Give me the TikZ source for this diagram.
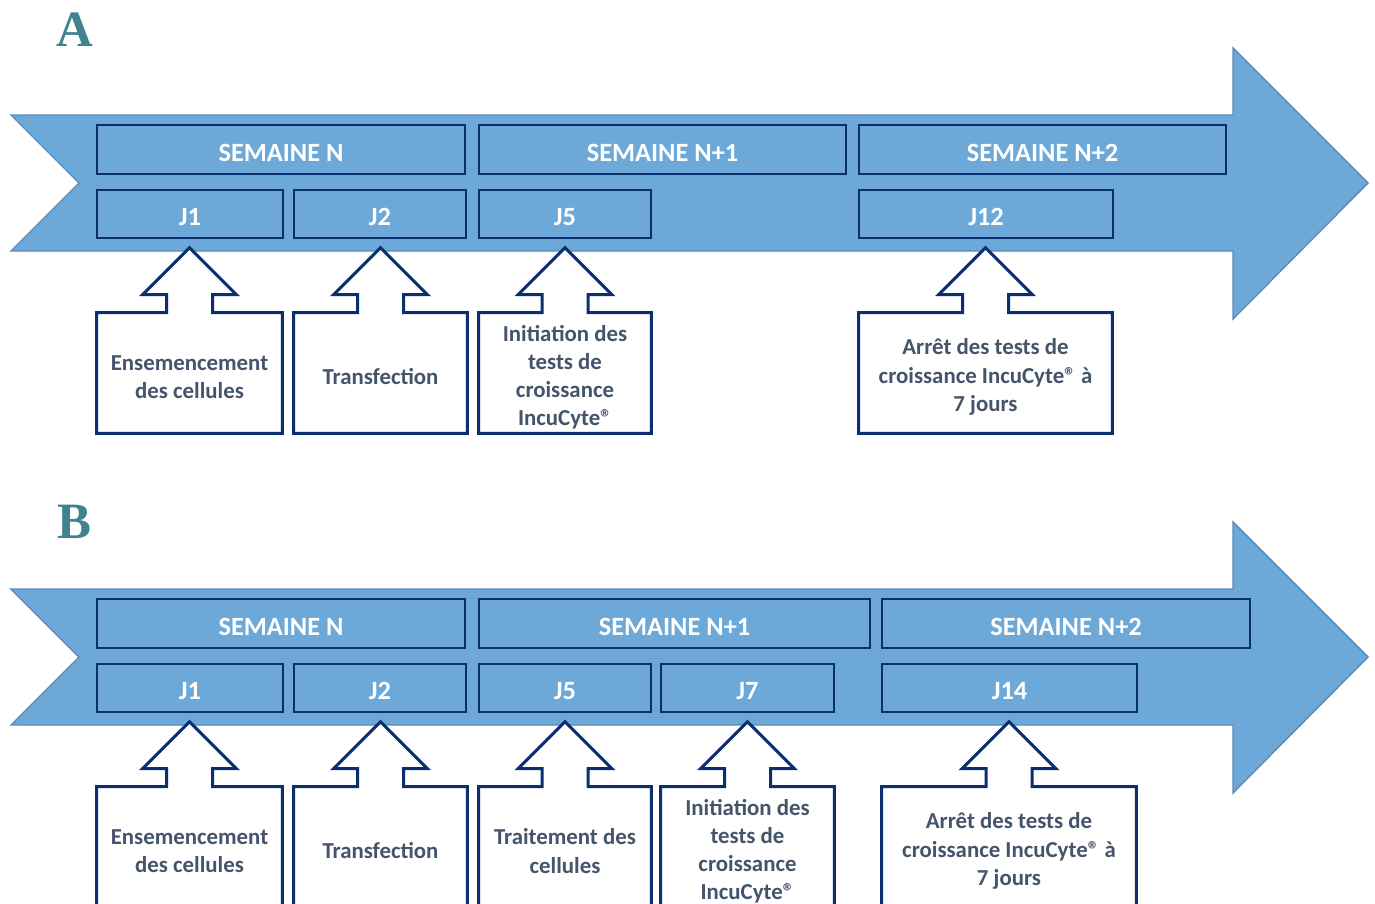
\documentclass[tikz,border=0pt]{standalone}
\usepackage{fontspec}
\setmainfont{Carlito}
\newfontfamily\letterfont{Liberation Serif}
\usepackage{xcolor}
\usetikzlibrary{positioning}

\definecolor{arrowfill}{HTML}{6CA9D9}
\definecolor{arrowline}{HTML}{5A8BBA}
\definecolor{navy}{HTML}{0B2E6E}
\definecolor{slate}{HTML}{44546A}
\definecolor{teal}{HTML}{41828F}

\tikzset{
  bigarrow/.style={fill=arrowfill, draw=arrowline, line width=0.8pt},
  weekbox/.style={draw=navy, line width=1.1pt, text=white, inner sep=0pt,
    text height=13.5pt, text depth=0pt,
    minimum height=0.98cm, font=\fontsize{15}{18}\selectfont\bfseries},
  daybox/.style={weekbox, minimum height=0.96cm},
  callbox/.style={text=slate, align=center, inner sep=0pt, minimum height=2.4cm,
    font=\fontsize{13}{16}\selectfont\bfseries},
  calltext/.style={callbox, yshift=-0.08cm},
  calloutline/.style={draw=navy, fill=white, line width=1.7pt, line join=miter},
  panel/.style={text=teal, font=\fontsize{29}{30}\letterfont\bfseries}
}

% outline of a callout box with its up arrow
\newcommand{\callarrow}[1]{%
  \draw[calloutline] (#1.north west) -- ([xshift=-0.46cm]#1.north) -- ++(0,-18)
    -- ++(-24,0) -- ++(47,-47) -- ++(47,47) -- ++(-24,0) -- ++(0,18)
    -- (#1.north east) -- (#1.south east) -- (#1.south west) -- cycle;}

\begin{document}
\begin{tikzpicture}[x=0.02cm, y=-0.02cm]
  \useasboundingbox (0,0) rectangle (1375,903);
  \clip (0,0) rectangle (1375,903);

  % ---- A ----
  \node[panel] (lA) at (75,30) {A};
  \draw[bigarrow] (11,115) -- (1233,115) -- (1233,48) -- (1368,183) -- (1233,319)
    -- (1233,251) -- (11,251) -- (79,183) -- cycle;

  \node[weekbox, minimum width=7.36cm] (wA1) at (281,149.5) {SEMAINE N};
  \node[weekbox, minimum width=7.34cm] (wA2) at (662.5,149.5) {SEMAINE N+1};
  \node[weekbox, minimum width=7.34cm] (wA3) at (1042.5,149.5) {SEMAINE N+2};

  \node[daybox, minimum width=3.72cm] (dA1) at (190,214) {J1};
  \node[daybox, minimum width=3.44cm] (dA2) at (380,214) {J2};
  \node[daybox, minimum width=3.44cm] (dA5) at (565,214) {J5};
  \node[daybox, minimum width=5.08cm] (dA12) at (986,214) {J12};

  \node[callbox, minimum width=3.70cm] (cA1) at (189.5,373) {};
  \node[callbox, minimum width=3.46cm] (cA2) at (380.5,373) {};
  \node[callbox, minimum width=3.44cm] (cA3) at (565,373) {};
  \node[callbox, minimum width=5.06cm] (cA4) at (985.5,373) {};
  \callarrow{cA1}
  \callarrow{cA2}
  \callarrow{cA3}
  \callarrow{cA4}
  \node[calltext] at (cA1) {Ensemencement\\des cellules};
  \node[calltext] at (cA2) {Transfection};
  \node[calltext] at (cA3) {Initiation des\\tests de\\croissance\\IncuCyte®};
  \node[calltext] at (cA4) {Arrêt des tests de\\croissance IncuCyte® à\\7 jours};

  % ---- B ----
  \node[panel] (lB) at (74,522) {B};
  \draw[bigarrow] (11,589) -- (1233,589) -- (1233,522) -- (1368,657) -- (1233,793)
    -- (1233,725) -- (11,725) -- (79,657) -- cycle;

  \node[weekbox, minimum width=7.36cm] (wB1) at (281,623.5) {SEMAINE N};
  \node[weekbox, minimum width=7.82cm] (wB2) at (674.5,623.5) {SEMAINE N+1};
  \node[weekbox, minimum width=7.36cm] (wB3) at (1066,623.5) {SEMAINE N+2};

  \node[daybox, minimum width=3.72cm] (dB1) at (190,688) {J1};
  \node[daybox, minimum width=3.44cm] (dB2) at (380,688) {J2};
  \node[daybox, minimum width=3.44cm] (dB5) at (565,688) {J5};
  \node[daybox, minimum width=3.46cm] (dB7) at (747.5,688) {J7};
  \node[daybox, minimum width=5.10cm] (dB14) at (1009.5,688) {J14};

  \node[callbox, minimum width=3.70cm] (cB1) at (189.5,847) {};
  \node[callbox, minimum width=3.46cm] (cB2) at (380.5,847) {};
  \node[callbox, minimum width=3.44cm] (cB3) at (565,847) {};
  \node[callbox, minimum width=3.46cm] (cB4) at (747.5,847) {};
  \node[callbox, minimum width=5.08cm] (cB5) at (1009,847) {};
  \callarrow{cB1}
  \callarrow{cB2}
  \callarrow{cB3}
  \callarrow{cB4}
  \callarrow{cB5}
  \node[calltext] at (cB1) {Ensemencement\\des cellules};
  \node[calltext] at (cB2) {Transfection};
  \node[calltext] at (cB3) {Traitement des\\cellules};
  \node[calltext] at (cB4) {Initiation des\\tests de\\croissance\\IncuCyte®};
  \node[calltext] at (cB5) {Arrêt des tests de\\croissance IncuCyte® à\\7 jours};
\end{tikzpicture}
\end{document}
